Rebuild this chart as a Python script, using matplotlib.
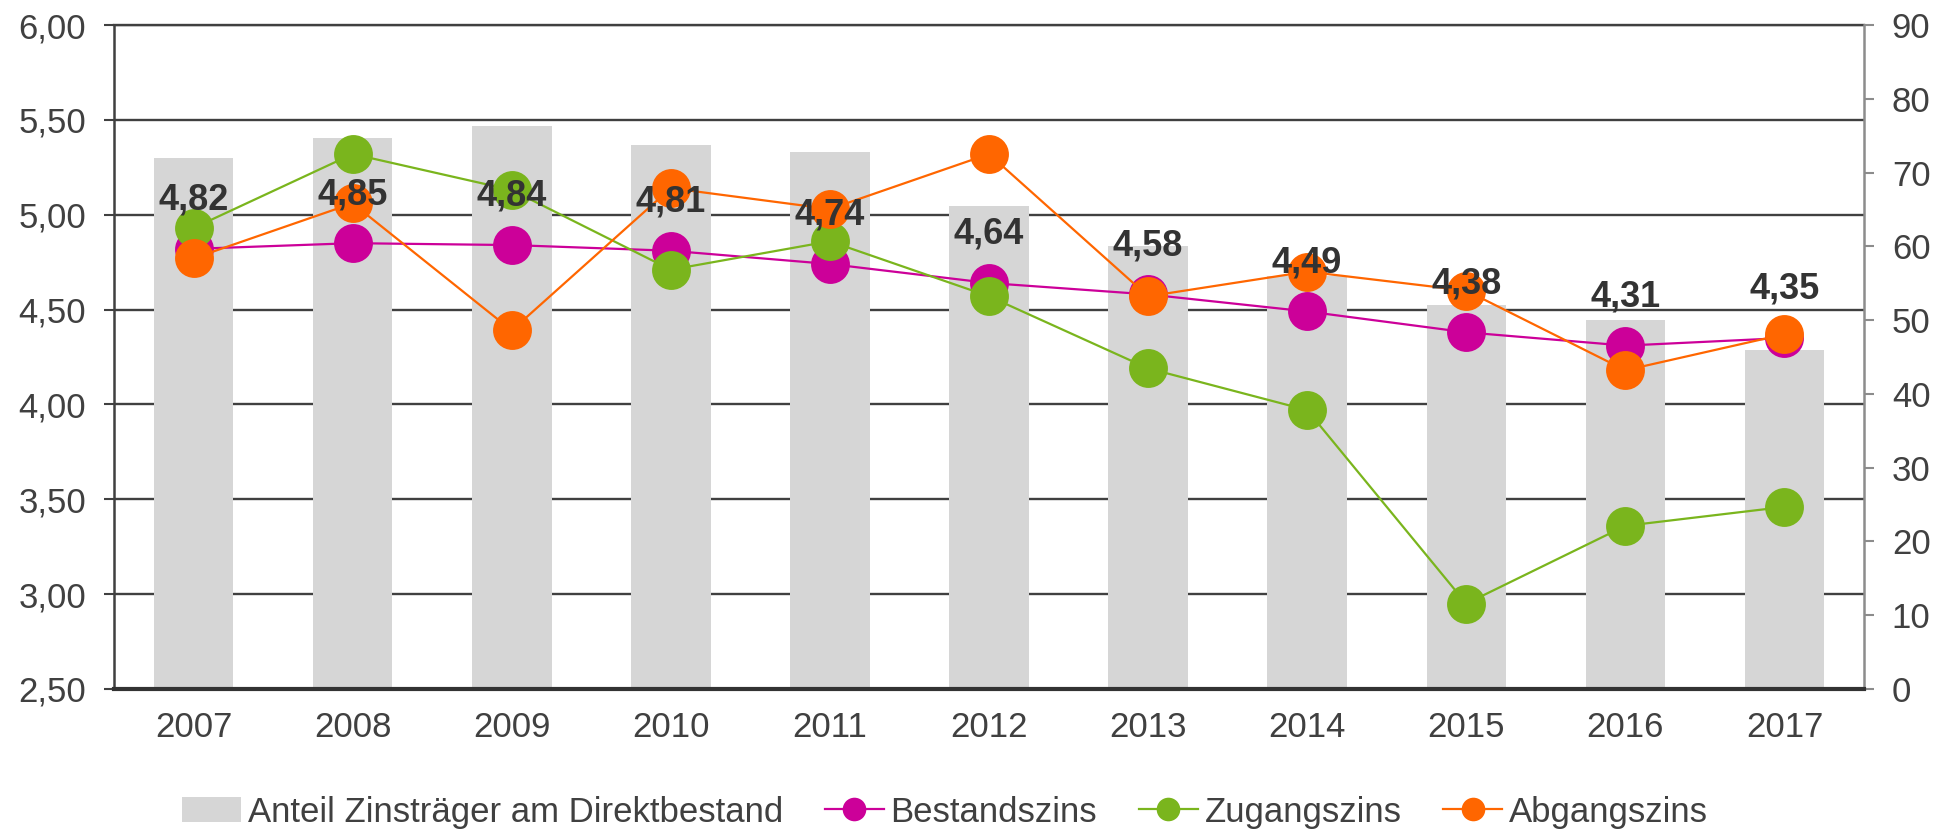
import matplotlib.pyplot as plt
from matplotlib.lines import Line2D

plt.rcParams['font.family'] = ['Liberation Sans', 'DejaVu Sans']

# Data
years = ["2007", "2008", "2009", "2010", "2011", "2012",
         "2013", "2014", "2015", "2016", "2017"]
anteil = [72.0, 74.7, 76.3, 73.8, 72.8, 65.4, 60.0, 56.0, 52.0, 50.0, 46.0]
bestandszins = [4.82, 4.85, 4.84, 4.81, 4.74, 4.64, 4.58, 4.49, 4.38, 4.31, 4.35]
zugangszins = [4.93, 5.32, 5.13, 4.71, 4.86, 4.57, 4.19, 3.97, 2.95, 3.36, 3.46]
abgangszins = [4.77, 5.06, 4.39, 5.14, 5.03, 5.32, 4.57, 4.70, 4.60, 4.18, 4.37]

left_ticks = [2.5, 3.0, 3.5, 4.0, 4.5, 5.0, 5.5, 6.0]
left_tick_labels = ["2,50", "3,00", "3,50", "4,00", "4,50", "5,00", "5,50", "6,00"]
right_ticks = [0, 10, 20, 30, 40, 50, 60, 70, 80, 90]

TEXT = "#404040"
GREY_BAR = "#D6D6D6"
MAGENTA = "#CC0099"
GREEN = "#7AB51D"
ORANGE = "#FF6600"
FS = 25

fig = plt.figure(figsize=(19.52, 8.3), dpi=100)
ax = fig.add_axes([114 / 1952, 1 - 689 / 830, 1750 / 1952, 664 / 830])
ax2 = ax.twinx()

x = list(range(len(years)))

# left axis: grid and ticks only
ax.set_xlim(-0.5, len(years) - 0.5)
ax.set_ylim(2.5, 6.0)
ax.set_yticks(left_ticks)
ax.set_yticklabels(left_tick_labels)
ax.grid(axis="y", color=TEXT, linewidth=1.7)
ax.set_axisbelow(True)
ax.set_xticks(x)
ax.set_xticklabels(years)
ax.tick_params(axis="y", direction="out", length=7, width=1.5, color=TEXT,
               labelsize=FS, labelcolor=TEXT, pad=13)
ax.tick_params(axis="x", length=0, labelsize=FS, labelcolor=TEXT, pad=16)
for s in ["right", "bottom"]:
    ax.spines[s].set_visible(False)
ax.spines["top"].set_color(TEXT)
ax.spines["top"].set_linewidth(1.7)
ax.spines["left"].set_color(TEXT)
ax.spines["left"].set_linewidth(1.8)

# right axis: bars
bars = ax2.bar(x, anteil, width=0.5, color=GREY_BAR, zorder=1,
               label="Anteil Zinsträger am Direktbestand")
ax2.set_ylim(0, 90)
ax2.set_yticks(right_ticks)
ax2.tick_params(axis="y", direction="out", length=7, width=1.5, color="#8C8C8C",
                labelsize=FS, labelcolor=TEXT, pad=13)
for s in ["top", "left"]:
    ax2.spines[s].set_visible(False)
ax2.spines["right"].set_color("#8C8C8C")
ax2.spines["right"].set_linewidth(1.8)
ax2.spines["bottom"].set_color("#333333")
ax2.spines["bottom"].set_linewidth(3)

# lines drawn on top of the bars, in left-axis data coordinates
series = [("Bestandszins", bestandszins, MAGENTA),
          ("Zugangszins", zugangszins, GREEN),
          ("Abgangszins", abgangszins, ORANGE)]
handles = [bars]
for name, vals, col in series:
    ax2.plot(x, vals, color=col, linewidth=1.6, marker="o", markersize=28,
             markeredgewidth=0, transform=ax.transData, zorder=3, clip_on=False)
    handles.append(Line2D([], [], color=col, linewidth=1.6, marker="o",
                          markersize=17, markeredgewidth=0, label=name))

for xi, v in zip(x, bestandszins):
    ax2.annotate(f"{v:.2f}".replace(".", ","), (xi, v), xycoords=ax.transData,
                 xytext=(0, 35), textcoords="offset points", ha="center",
                 va="center", fontsize=26, fontweight="bold", color="#333333",
                 zorder=4)

fig.legend(handles=handles, loc="center", bbox_to_anchor=(945 / 1952, 18 / 830),
           ncol=4, frameon=False, fontsize=FS, labelcolor=TEXT,
           handlelength=1.7, handletextpad=0.2, columnspacing=1.2)

fig.savefig("out.png", dpi=100)
